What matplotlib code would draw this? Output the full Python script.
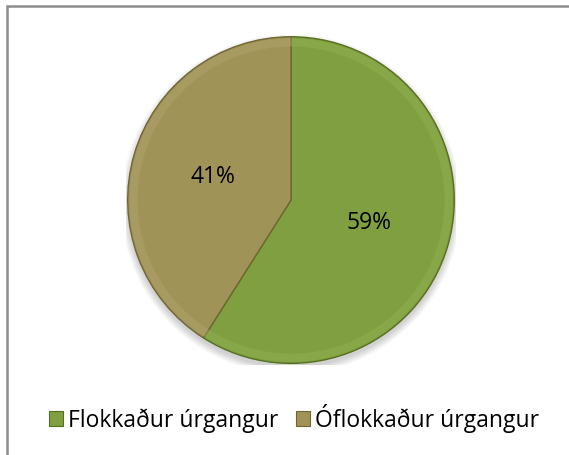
import matplotlib
matplotlib.use("Agg")
import matplotlib.pyplot as plt
from matplotlib.patches import Rectangle, Patch, Circle

# data
labels = ["Flokkaður úrgangur", "Óflokkaður úrgangur"]
shares = [59, 41]
colors = ["#7f9f40", "#a09358"]
bevels = ["#93b255", "#b1a56c"]
edges = ["#55701f", "#6f6535"]

plt.rcParams["font.family"] = ["Open Sans", "DejaVu Sans"]

fig = plt.figure(figsize=(5.69, 4.55), dpi=100)
ax = fig.add_axes([0.2214, 0.1978, 0.58, 0.725])

# soft shadow under the pie
for i in range(6):
    ax.add_patch(Circle((0.0, -0.025), 1.0 + 0.008 * i, facecolor="black",
                        edgecolor="none", alpha=0.03, zorder=0))

wedges, texts, autotexts = ax.pie(
    shares, colors=colors, startangle=90, counterclock=False,
    autopct=lambda p: "%d%%" % round(p), pctdistance=0.5,
    wedgeprops=dict(linewidth=1.0),
    textprops=dict(fontsize=16.5, color="black"),
)
for w, ec in zip(wedges, edges):
    w.set_edgecolor(ec)
    w.set_zorder(1)

# bevel ring along the rim
rims, _ = ax.pie(shares, colors=bevels, startangle=90, counterclock=False,
                 wedgeprops=dict(width=0.05, linewidth=0, alpha=0.45), radius=0.99)
for r in rims:
    r.set_zorder(2)
for t in autotexts:
    t.set_zorder(3)

ax.set_xlim(-1.01, 1.01)
ax.set_ylim(-1.01, 1.01)
ax.set_aspect("equal")
ax.axis("off")

# outer chart frame (only top/left edges visible in the crop)
fig.patches.append(Rectangle((6.5 / 569, -0.1), 2.0, 1 - 6 / 455 + 0.1,
                             transform=fig.transFigure, fill=False,
                             edgecolor="#8c8c8c", linewidth=1.8))

handles = [Patch(facecolor=c, edgecolor=e, linewidth=0.8) for c, e in zip(colors, edges)]
fig.legend(handles, labels, loc="center", bbox_to_anchor=(0.517, 0.081), ncol=2,
           frameon=False, fontsize=16.5, handlelength=0.6, handleheight=0.6,
           handletextpad=0.2, columnspacing=0.8)

fig.savefig("out.png", dpi=100)
